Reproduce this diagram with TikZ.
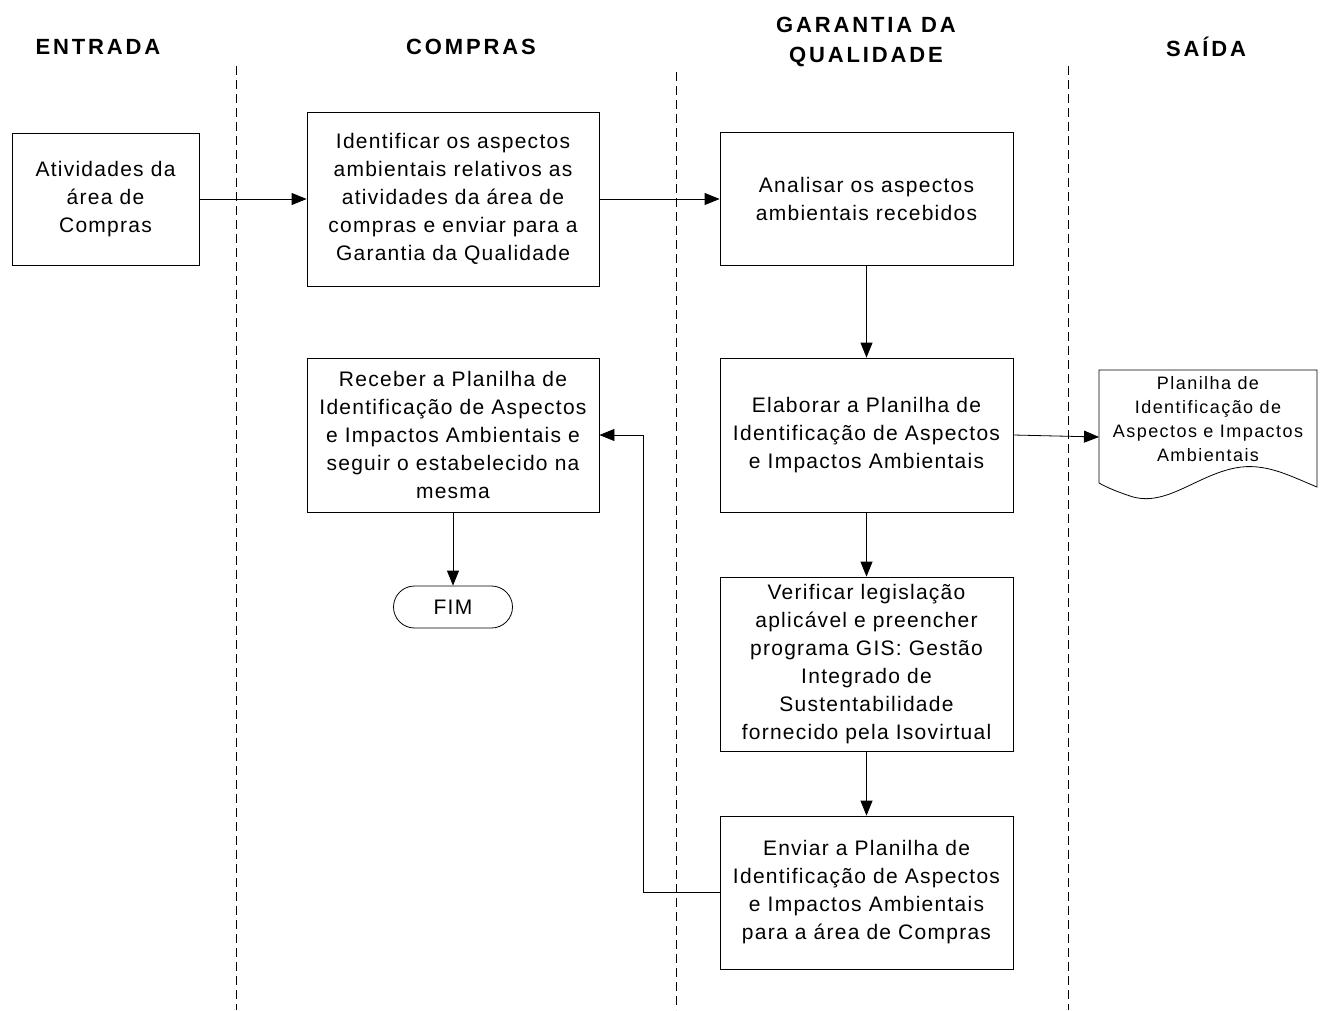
\documentclass[tikz,border=0pt]{standalone}
\usepackage{fontspec}
\setmainfont{Liberation Sans}
\usetikzlibrary{arrows.meta,shapes.misc}
\begin{document}
\begin{tikzpicture}[x=1pt,y=-1pt,
  box/.style={draw, line width=0.8pt, inner sep=0pt, align=center,
    font=\fontsize{21}{28}\selectfont\addfontfeature{LetterSpace=6}},
  hdr/.style={align=center, font=\fontsize{22}{30}\selectfont\bfseries\addfontfeature{LetterSpace=13}},
  lane/.style={line width=1pt, dash pattern=on 9pt off 5pt},
  conn/.style={line width=0.8pt, -{Triangle[length=15pt,width=12pt]}}]
\useasboundingbox (0,0) rectangle (1344,1010);
% headers
\node[hdr] (hE) at (98,47) {ENTRADA};
\node[hdr] (hC) at (471,47) {COMPRAS};
\node[hdr] (hG) at (866,42) {GARANTIA DA\\QUALIDADE};
\node[hdr] (hS) at (1206,47) {SAÍDA};
% lanes
\draw[lane] (236,66) -- (236,1010);
\draw[lane] (676,72) -- (676,1010);
\draw[lane] (1068,66) -- (1068,1010);
% boxes
\node[box, minimum width=187pt, minimum height=132pt] (b1) at (105.5,199) {Atividades da\\área de\\Compras};
\node[box, minimum width=292pt, minimum height=174pt] (b2) at (453,199) {Identificar os aspectos\\ambientais relativos as\\atividades da área de\\compras e enviar para a\\Garantia da Qualidade};
\node[box, minimum width=293pt, minimum height=133pt] (b3) at (866.5,198.5) {Analisar os aspectos\\ambientais recebidos};
\node[box, minimum width=293pt, minimum height=154pt] (b4) at (866.5,435) {Elaborar a Planilha de\\Identificação de Aspectos\\e Impactos Ambientais};
\node[box, minimum width=293pt, minimum height=174pt] (b5) at (866.5,664) {Verificar legislação\\aplicável e preencher\\programa GIS: Gestão\\Integrado de\\Sustentabilidade\\fornecido pela Isovirtual};
\node[box, minimum width=293pt, minimum height=153pt] (b6) at (866.5,892.5) {Enviar a Planilha de\\Identificação de Aspectos\\e Impactos Ambientais\\para a área de Compras};
\node[box, minimum width=292pt, minimum height=154pt] (b7) at (453,435) {Receber a Planilha de\\Identificação de Aspectos\\e Impactos Ambientais e\\seguir o estabelecido na\\mesma};
\node[box, rounded rectangle, minimum width=119pt, minimum height=42pt] (fim) at (453,607) {FIM};
% document shape
\draw[line width=0.8pt] (1099,370) -- (1317,370) -- (1317,487)
  .. controls (1290,476) and (1265,462) .. (1235,468)
  .. controls (1195,476) and (1165,508) .. (1130,496)
  .. controls (1118,492) and (1108,488) .. (1099,483) -- cycle;
\coordinate (docL) at (1099,437);
\node[align=center, font=\fontsize{18}{24}\selectfont\addfontfeature{LetterSpace=8}] (doc) at (1208,419) {Planilha de\\Identificação de\\Aspectos e Impactos\\Ambientais};
% connectors
\draw[conn] (b1.east) -- (b2.west);
\draw[conn] (b2.east) -- (b3.west |- b2.east);
\draw[conn] (b3.south) -- (b4.north);
\draw[conn] (b4.east) -- (docL);
\draw[conn] (b4.south) -- (b5.north);
\draw[conn] (b5.south) -- (b6.north);
\draw[conn] (b6.west) -- (643,892.5) -- (643,435) -- (b7.east);
\draw[conn] (b7.south) -- (fim.north);
\end{tikzpicture}
\end{document}
